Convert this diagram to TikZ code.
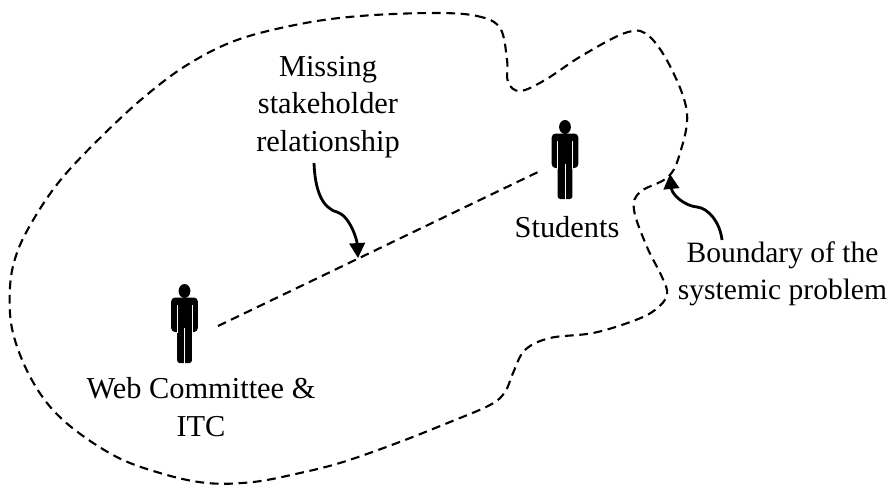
\documentclass[tikz,border=0pt]{standalone}
\usepackage{fontspec}
\setmainfont{Liberation Serif}
\usetikzlibrary{arrows.meta}

\tikzset{
  label text/.style={font=\fontsize{17.3}{21.5}\selectfont,align=center,inner sep=0pt},
  boundary line/.style={line width=1.2pt,dash pattern=on 5pt off 3.2pt},
  pointer/.style={-{Triangle[length=8.5pt,width=8.8pt]},line width=1.6pt},
  person/.pic={
    \fill (0,0) ellipse[x radius=5.9,y radius=7];
    \fill[rounded corners=2.2pt] (-13.3,6.5) rectangle (13.3,41);
    \fill[rounded corners=1.5pt] (-7.4,20) rectangle (7.4,72);
    \draw[white,line width=0.35pt] (-7.4,14) -- (-7.4,41.5);
    \draw[white,line width=0.35pt] (7.4,14) -- (7.4,41.5);
    \draw[white,line width=0.5pt] (0,37) -- (0,72.5);
  }
}

\begin{document}
\begin{tikzpicture}[x=0.02cm,y=-0.02cm]
\useasboundingbox (0,0) rectangle (891,485);
% boundary of the problem
\draw[boundary line] plot[smooth cycle,tension=0.6] coordinates {
  (433,13) (477,16) (500,28) (507,60) (508,82) (520,91) (545,80) (583,55) (628,32) (650,37) (672,70)
  (687,113) (680,153) (668,177) (640,192) (634,210) (647,247) (662,277) (667,295) (655,310) (633,321)
  (593,333) (550,338) (525,350) (513,373) (505,392) (490,405) (450,422) (397,443) (343,462) (300,473)
  (253,482) (207,483) (160,473) (113,455) (63,420) (33,382) (13,333) (10,287) (18,250) (38,212) (63,177)
  (100,138) (143,98) (187,65) (237,40) (300,24) (360,16)};
\pic at (184.5,291) {person};
\pic at (565,127) {person};
\node[label text] (web) at (201,407) {Web Committee \&\\ITC};
\node[label text] (students) at (567,227) {Students};
\node[label text] (missing) at (328,107) {Missing\\stakeholder\\relationship};
\node[label text,font=\fontsize{16.8}{21.2}\selectfont] (boundary) at (782.5,274) {Boundary of the\\systemic problem};
\coordinate (webend) at (218,326);
\coordinate (studentsend) at (538,172);
\coordinate (linepoint) at (358,258);
\coordinate (edgepoint) at (670,174);
\coordinate (missingfoot) at (314,163);
\coordinate (boundaryfoot) at (722,240);
\draw[boundary line] (webend) -- (studentsend);
\draw[pointer] (missingfoot) .. controls (315,190) and (322,208) .. (337,212) .. controls (350,216) and (357,240) .. (linepoint);
\draw[pointer] (boundaryfoot) .. controls (720,222) and (708,208) .. (697,207) .. controls (685,206) and (672,195) .. (edgepoint);
\end{tikzpicture}
\end{document}
